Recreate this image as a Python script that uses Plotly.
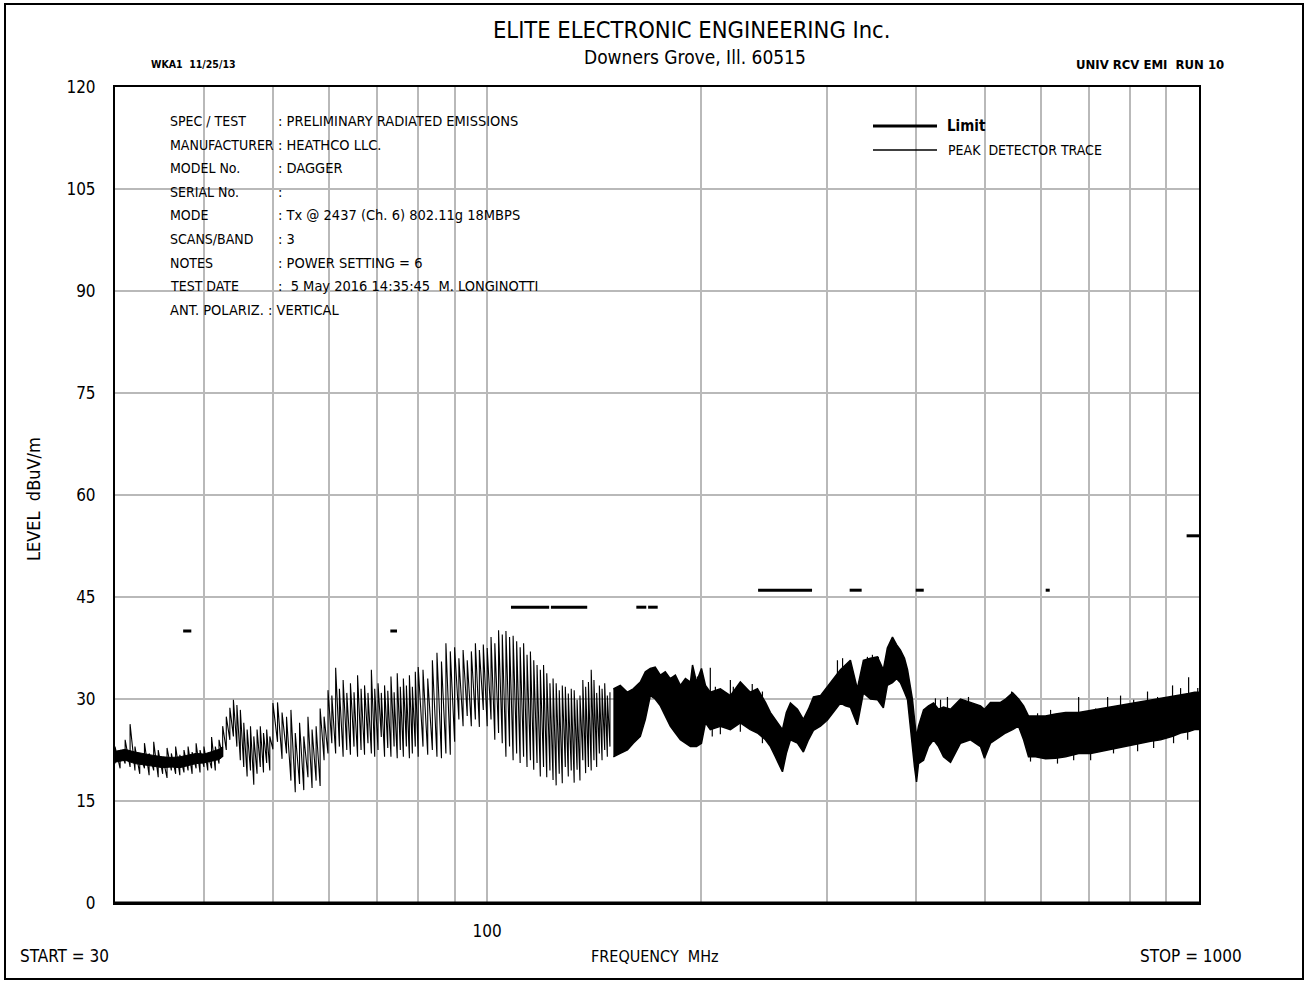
import plotly.graph_objects as go

# ---------------- data ----------------
# comb / spiky part of the peak detector trace, 30 - 150 MHz
comb1_f = [30.0, 30.5, 31.0, 31.5, 32.0, 32.5, 33.0, 33.5, 34.0, 34.5, 35.0, 35.5, 36.0, 36.5, 37.0,
           37.5, 38.0, 38.5, 39.0, 39.5, 40.0, 40.5, 41.0, 41.5, 42.0, 42.5, 43.0, 43.5, 44.0, 44.5,
           45.0, 45.5, 46.0, 46.5, 47.0, 47.5, 48.0, 48.5, 49.0, 49.5]
comb1_hi = [23.0, 22.5, 24.0, 26.3, 23.0, 22.0, 23.5, 22.0, 23.7, 22.5, 21.5, 22.8, 22.0, 23.0, 21.8,
            22.5, 23.0, 22.2, 23.5, 22.5, 23.0, 22.0, 24.4, 23.0, 24.0, 26.0, 27.4, 28.7, 29.9, 29.1,
            28.4, 26.5, 25.5, 26.0, 24.5, 25.5, 26.0, 25.0, 25.5, 24.5]
comb1_lo = [20.5, 19.8, 20.5, 20.0, 19.5, 19.0, 19.8, 18.8, 19.5, 18.5, 19.0, 18.4, 19.5, 19.0, 18.8,
            19.2, 19.5, 19.0, 19.8, 19.2, 20.0, 19.5, 19.8, 19.5, 20.5, 21.5, 22.5, 24.0, 24.5, 23.0,
            21.0, 20.0, 18.6, 19.5, 17.4, 19.0, 20.0, 19.2, 20.6, 19.5]

comb2_f = [50.0, 50.75, 51.5, 52.25, 53.0, 53.75, 54.5, 55.25, 56.0, 56.75, 57.5, 58.25, 59.0, 59.75,
           60.5, 61.25, 62.0, 62.75, 63.5, 64.25, 65.0, 65.75, 66.5, 67.25, 68.0, 68.75, 69.5, 70.25,
           71.0, 71.75, 72.5, 73.25, 74.0, 74.75, 75.5, 76.25, 77.0, 77.75, 78.5, 79.25]
comb2_hi = [29.4, 29.5, 28.0, 27.4, 28.4, 25.0, 26.5, 24.5, 27.4, 25.5, 26.0, 28.6, 27.4, 31.3,
            30.5, 34.6, 31.5, 32.8, 30.9, 32.3, 31.0, 33.5, 31.5, 32.0, 30.9, 34.3, 31.5, 32.3,
            30.9, 32.0, 31.2, 33.3, 31.0, 33.8, 31.8, 33.0, 32.0, 33.5, 31.8, 34.0]
comb2_lo = [22.6, 23.7, 21.2, 22.0, 18.0, 16.3, 17.5, 16.6, 18.5, 16.9, 18.0, 17.2, 21.0, 22.0,
            23.5, 22.0, 23.0, 21.5, 22.5, 21.8, 23.0, 21.5, 22.5, 21.8, 23.5, 22.0, 21.5, 22.5,
            24.4, 21.5, 22.8, 21.5, 23.0, 21.3, 22.5, 21.5, 23.0, 21.3, 22.0, 23.0]

comb3_f = [80.0, 81.25, 82.5, 83.75, 85.0, 86.25, 87.5, 88.75, 90.0, 91.25, 92.5, 93.75, 95.0, 96.25,
           97.5, 98.75, 100.0, 101.25, 102.5, 103.75, 105.0, 106.25, 107.5, 108.75, 110.0, 111.25,
           112.5, 113.75, 115.0, 116.25, 117.5, 118.75, 120.0, 121.25, 122.5, 123.75, 125.0, 126.25,
           127.5, 128.75, 130.0, 131.25, 132.5, 133.75, 135.0, 136.25, 137.5, 138.75, 140.0, 141.25,
           142.5, 143.75, 145.0, 146.25, 147.5, 148.75]
comb3_hi = [34.7, 34.3, 33.0, 35.7, 36.8, 35.5, 38.2, 37.0, 37.6, 36.0, 37.2, 35.7, 37.0, 38.2,
            37.2, 38.0, 37.5, 39.1, 38.2, 40.1, 39.5, 40.0, 39.1, 39.3, 38.5, 37.6,
            38.2, 36.5, 37.0, 35.7, 35.0, 34.3, 35.0, 33.8, 32.3, 33.0, 32.3, 31.3,
            32.0, 31.8, 30.8, 31.5, 31.3, 29.9, 30.5, 32.8, 31.8, 32.5, 34.3, 32.8,
            30.9, 32.0, 31.5, 32.3, 30.5, 31.0]
comb3_lo = [21.5, 23.0, 21.8, 22.5, 21.5, 21.3, 22.0, 21.8, 23.7, 27.0, 26.0, 27.5, 26.0, 27.0,
            25.9, 28.4, 26.0, 27.0, 24.0, 25.0, 23.5, 21.5, 23.0, 21.0, 22.0, 20.6,
            21.5, 20.0, 21.0, 19.6, 20.6, 18.6, 20.0, 18.5, 19.5, 18.1, 17.3, 19.0,
            17.6, 20.0, 18.6, 19.5, 17.7, 19.6, 18.0, 21.0, 19.1, 20.0, 19.5, 21.0,
            20.0, 22.0, 21.0, 22.5, 21.5, 23.0]

# dense core of the low-frequency noise floor, 30 - 42.5 MHz
core_f = [30.0, 31.0, 32.0, 33.0, 34.0, 35.0, 36.0, 37.0, 38.0, 39.0, 40.0, 41.0, 42.0, 42.5]
core_hi = [22.3, 22.6, 22.2, 21.9, 21.7, 21.5, 21.4, 21.5, 21.7, 22.0, 21.9, 22.2, 22.6, 23.0]
core_lo = [20.7, 21.0, 20.5, 20.3, 20.1, 19.9, 20.0, 19.9, 20.2, 20.5, 20.6, 20.8, 21.1, 21.5]

# dense band part of the peak detector trace, 150 - 1000 MHz (upper / lower envelope)
band_f = [150.4, 153.8, 157.4, 160.4, 164.1, 166.8, 169.5, 172.2, 175.1, 177.9, 180.8, 183.8, 186.8,
          189.9, 193.0, 194.3, 196.8, 200.0, 202.6, 205.8, 212.6, 219.6, 226.8, 234.2, 239.7, 246.0,
          250.0, 254.0, 259.9, 263.2, 266.7, 272.8, 278.1, 282.7, 287.3, 293.9, 300.6, 306.4, 313.5,
          318.6, 323.8, 331.1, 337.7, 345.5, 353.4, 360.2, 364.9, 371.0, 375.9, 380.7, 385.7, 389.5,
          393.3, 395.8, 398.4, 401.0, 403.6, 410.2, 416.9, 423.7, 430.6, 437.6, 447.6, 462.3, 477.5,
          493.2, 499.6, 509.4, 526.2, 534.9, 547.2, 557.8, 567.0, 576.1, 589.3, 608.6, 628.7, 649.5,
          677.5, 704.3, 727.4, 751.3, 775.9, 801.5, 827.8, 855.0, 883.1, 918.0, 942.2, 967.0, 986.0,
          1000.0]
band_hi = [31.5, 32.0, 31.0, 31.5, 32.5, 34.0, 34.5, 34.7, 33.5, 34.0, 33.0, 33.5, 32.0,
           33.0, 32.5, 35.0, 32.5, 34.5, 32.0, 31.0, 31.5, 30.5, 32.5, 31.0, 31.5, 29.5,
           28.0, 27.0, 25.5, 28.0, 29.4, 28.5, 27.0, 28.5, 30.3, 30.5, 31.8, 33.0, 34.3,
           35.0, 35.7, 31.5, 35.7, 36.0, 36.2, 34.3, 37.5, 39.1, 38.0, 37.2, 36.0, 34.3,
           31.5, 29.9, 27.0, 24.4, 26.0, 28.4, 29.0, 29.4, 28.5, 28.8, 28.5, 30.0, 29.5,
           29.0, 28.5, 29.5, 29.5, 30.0, 30.9, 30.0, 29.0, 27.5, 27.5, 27.5, 27.8, 28.0,
           28.0, 28.3, 28.5, 28.8, 29.0, 29.3, 29.5, 29.8, 30.0, 30.3, 30.5, 30.8, 31.0,
           31.0]
band_lo = [21.5, 22.0, 22.5, 23.5, 24.5, 27.0, 30.5, 30.0, 29.0, 27.5, 26.0, 25.0, 24.0,
           23.5, 23.0, 23.0, 23.0, 23.5, 26.5, 25.5, 26.0, 25.5, 26.5, 25.5, 25.0, 24.0,
           23.0, 21.5, 19.3, 22.0, 24.0, 23.5, 22.2, 24.0, 25.4, 26.0, 26.9, 28.0, 29.4,
           29.0, 28.8, 26.2, 30.9, 30.0, 29.9, 28.7, 32.0, 32.4, 33.0, 32.4, 31.0, 29.9,
           26.0, 23.0, 20.0, 17.8, 20.5, 21.0, 23.0, 24.0, 23.0, 21.5, 20.7, 23.5, 24.0,
           23.0, 21.3, 23.5, 24.5, 25.0, 25.5, 26.0, 24.0, 21.5, 21.5, 21.2, 21.3, 21.5,
           22.0, 22.0, 22.3, 22.7, 23.0, 23.3, 23.5, 23.8, 24.0, 24.5, 25.0, 25.2, 25.5,
           25.5]

# isolated spikes sticking out of the dense band (frequency, tip, root)
spike_f = [197.4, 205.8, 209.2, 219.6, 221.7, 235.7, 243.6, 310.5, 315.7, 342.1, 347.7, 354.5,
           426.3, 433.4, 443.2, 474.4, 545.4, 593.2, 618.7, 677.5, 715.8, 744.1, 775.9, 809.5,
           846.6, 874.6, 918.0, 942.2, 967.0, 996.0,
           207.1, 212.6, 226.8, 243.6, 579.8, 632.7, 666.7, 704.3, 758.4, 819.9, 863.5, 921.0, 964.0]
spike_top = [33.3, 34.6, 31.8, 32.8, 31.8, 32.2, 31.1, 35.7, 36.0, 36.2, 36.5, 36.2,
             30.1, 29.9, 30.3, 30.3, 31.1, 27.9, 28.4, 30.3, 28.6, 30.3, 30.5, 29.9,
             31.1, 30.3, 32.0, 31.6, 33.2, 31.6,
             24.5, 24.8, 25.2, 23.5, 20.8, 20.5, 21.0, 21.0, 22.0, 22.3, 22.8, 23.5, 24.0]
spike_base = [30.0, 30.0, 29.0, 29.0, 29.0, 29.0, 28.0, 32.0, 32.0, 33.0, 33.0, 33.0,
              27.0, 27.0, 27.0, 27.0, 27.0, 25.0, 25.0, 26.0, 26.0, 26.0, 27.0, 27.0,
              27.0, 27.0, 28.0, 28.0, 28.0, 28.0,
              27.5, 27.5, 28.0, 26.5, 24.0, 24.0, 24.0, 24.0, 25.0, 25.5, 26.0, 26.5, 27.0]

# limit line segments (dBuV/m)
limit_f0 = [37.4, 73.1, 108.0, 122.9, 162.0, 168.3, 240.2, 323.0, 400.0, 609.0, 960.7]
limit_f1 = [38.4, 74.7, 122.2, 138.2, 167.3, 173.6, 286.0, 335.8, 410.5, 617.0, 1000.0]
limit_lv = [40.0, 40.0, 43.5, 43.5, 43.5, 43.5, 46.0, 46.0, 46.0, 46.0, 54.0]

# axes
x_grid = [40, 50, 60, 70, 80, 90, 100, 200, 300, 400, 500, 600, 700, 800, 900]
x_labels = ["", "", "", "", "", "", "100", "", "", "", "", "", "", "", ""]
y_ticks = [0, 15, 30, 45, 60, 75, 90, 105, 120]

header_labels = ["SPEC / TEST", "MANUFACTURER", "MODEL No.", "SERIAL No.", "MODE",
                 "SCANS/BAND", "NOTES", "TEST DATE"]
header_values = [": PRELIMINARY RADIATED EMISSIONS", ": HEATHCO LLC.", ": DAGGER", ":",
                 ": Tx @ 2437 (Ch. 6) 802.11g 18MBPS", ": 3", ": POWER SETTING = 6",
                 ":  5 May 2016 14:35:45  M. LONGINOTTI"]
header_last = "ANT. POLARIZ. : VERTICAL"

# ---------------- figure ----------------
W, H = 1308, 983
L, R, T, B = 115, 1199, 87, 903
FONT = "DejaVu Sans Condensed, Liberation Sans Narrow, DejaVu Sans, sans-serif"


def px(x):
    return (x - L) / (R - L)


def py(y):
    return (B - y) / (B - T)


fig = go.Figure()

# core of the low-frequency floor
fig.add_trace(go.Scatter(x=core_f + core_f[::-1], y=core_hi + core_lo[::-1], mode="lines",
                         fill="toself", fillcolor="black", line=dict(color="black", width=1),
                         showlegend=False, hoverinfo="skip"))

# comb part: vertical strokes joined by the sweep
cx, cy = [], []
for fs, his, los in ((comb1_f, comb1_hi, comb1_lo), (comb2_f, comb2_hi, comb2_lo),
                     (comb3_f, comb3_hi, comb3_lo)):
    for f, h, l in zip(fs, his, los):
        cx += [f, f]
        cy += [l, h]
fig.add_trace(go.Scatter(x=cx, y=cy, mode="lines", line=dict(color="black", width=1.1),
                         showlegend=False, hoverinfo="skip"))

# dense band
fig.add_trace(go.Scatter(x=band_f + band_f[::-1], y=band_hi + band_lo[::-1], mode="lines",
                         fill="toself", fillcolor="black", line=dict(color="black", width=1.5),
                         showlegend=False, hoverinfo="skip"))

# spikes
sx, sy = [], []
for f, t, b in zip(spike_f, spike_top, spike_base):
    sx += [f, f, None]
    sy += [b, t, None]
fig.add_trace(go.Scatter(x=sx, y=sy, mode="lines", line=dict(color="black", width=1.2),
                         showlegend=False, hoverinfo="skip"))

# limit
lx, ly = [], []
for a, b, v in zip(limit_f0, limit_f1, limit_lv):
    lx += [a, b, None]
    ly += [v, v, None]
fig.add_trace(go.Scatter(x=lx, y=ly, mode="lines", line=dict(color="black", width=3),
                         showlegend=False, hoverinfo="skip"))

shapes = [
    # white panel behind header text (covers grid)
    dict(type="rect", xref="paper", yref="paper", x0=px(165), x1=px(830), y0=py(330), y1=py(110),
         fillcolor="white", line=dict(width=0), layer="between"),
    # outer frame
    dict(type="rect", xref="paper", yref="paper", x0=px(5), x1=px(1303), y0=py(979), y1=py(4),
         line=dict(color="black", width=2), fillcolor="rgba(0,0,0,0)"),
    # heavier bottom edge of the plot frame
    dict(type="line", xref="paper", yref="paper", x0=0, x1=1, y0=0, y1=0,
         line=dict(color="black", width=3)),
    # legend samples
    dict(type="line", xref="paper", yref="paper", x0=px(873), x1=px(937), y0=py(126), y1=py(126),
         line=dict(color="black", width=3)),
    dict(type="line", xref="paper", yref="paper", x0=px(873), x1=px(937), y0=py(150), y1=py(150),
         line=dict(color="black", width=1.5)),
]

ann = []


def text(x, y, s, size=16, anchor="left", bold=False, angle=0):
    ann.append(dict(x=px(x), y=py(y), xref="paper", yref="paper", text=("<b>%s</b>" % s) if bold else s,
                    showarrow=False, xanchor=anchor, yanchor="middle", textangle=angle,
                    font=dict(family=FONT, size=size, color="black")))


text(691, 30, "ELITE ELECTRONIC ENGINEERING Inc.", size=23.5, anchor="center")
text(695, 57, "Downers Grove, Ill. 60515", size=19, anchor="center")
text(149, 64, "WKA1  11/25/13", size=10.5, bold=True)
text(1226, 64, "UNIV RCV EMI  RUN 10", size=13, bold=True, anchor="right")
for i, (lab, val) in enumerate(zip(header_labels, header_values)):
    yy = 121 + i * 23.6
    text(168, yy, lab, size=14)
    text(276, yy, val, size=14.5)
text(168, 121 + 8 * 23.6, header_last, size=14.5)
text(945, 126, "Limit", size=15, bold=True)
text(946, 150, "PEAK  DETECTOR TRACE", size=14)
text(33, 499, "LEVEL  dBuV/m", size=18, anchor="center", angle=-90)
text(18, 956, "START = 30", size=17)
text(655, 956, "FREQUENCY  MHz", size=16, anchor="center")
text(1244, 956, "STOP = 1000", size=17, anchor="right")

fig.update_layout(
    width=W, height=H, margin=dict(l=L, r=W - R, t=T, b=H - B),
    paper_bgcolor="white", plot_bgcolor="white",
    shapes=shapes, annotations=ann, showlegend=False,
    xaxis=dict(type="log", range=[1.4771213, 3.0], tickvals=x_grid, ticktext=x_labels,
               showgrid=True, gridcolor="#b9b9b9", gridwidth=1.5, zeroline=False,
               showline=True, linecolor="black", linewidth=2, mirror=True, ticks="",
               ticklabelstandoff=12, tickfont=dict(family=FONT, size=17, color="black")),
    yaxis=dict(range=[0, 120], tickvals=y_ticks, showgrid=True, gridcolor="#b9b9b9", gridwidth=1.5,
               zeroline=False, showline=True, linecolor="black", linewidth=2, mirror=True, ticks="",
               ticklabelstandoff=14, tickfont=dict(family=FONT, size=17, color="black")),
)

fig.write_html("out.html")
